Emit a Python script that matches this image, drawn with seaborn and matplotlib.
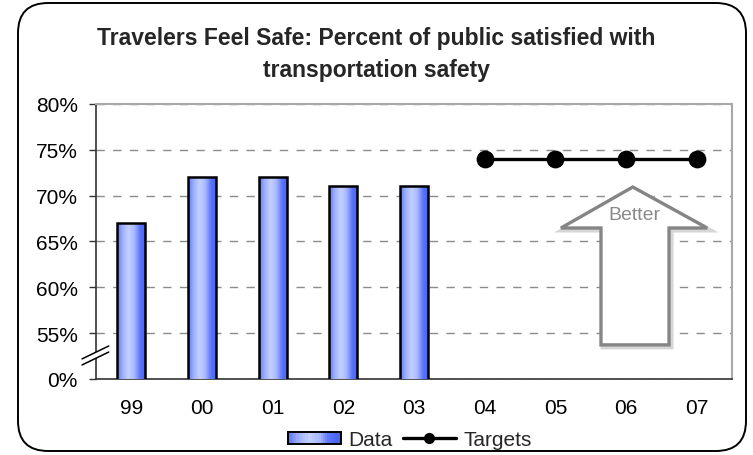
import numpy as np
import pandas as pd
import matplotlib
matplotlib.use("Agg")
import matplotlib.pyplot as plt
import matplotlib.transforms as mtransforms
from matplotlib.colors import LinearSegmentedColormap
from matplotlib.patches import Rectangle, Polygon, FancyBboxPatch
from matplotlib.lines import Line2D
from matplotlib.legend_handler import HandlerBase
import seaborn as sns

# ---- data ----
years = ["99", "00", "01", "02", "03", "04", "05", "06", "07"]
data_years = ["99", "00", "01", "02", "03"]
data_values = [67, 72, 72, 71, 71]
target_years = ["04", "05", "06", "07"]
target_values = [74, 74, 74, 74]
y_ticks = [50, 55, 60, 65, 70, 75, 80]
y_tick_labels = ["0%", "55%", "60%", "65%", "70%", "75%", "80%"]

sns.set_theme(style="white")
plt.rcParams["font.family"] = ["Liberation Sans", "DejaVu Sans"]

FS = 15
bar_cmap = LinearSegmentedColormap.from_list(
    "barfill", ["#5b76ff", "#9fb1ff", "#c4d0ff", "#a9b9ff", "#5a74fb", "#4563f0"])

fig = plt.figure(figsize=(7.53, 4.56), dpi=100)
ax = fig.add_axes([0.1275, 0.1667, 0.8446, 0.6031])

df_data = pd.DataFrame({"year": data_years, "value": data_values})
df_target = pd.DataFrame({"year": target_years, "value": target_values})

sns.barplot(data=df_data, x="year", y="value", order=years, width=0.4,
            color="#8fa3ff", edgecolor="black", linewidth=1.8, ax=ax, zorder=3)
sns.pointplot(data=df_target, x="year", y="value", order=years, color="black",
              markers="o", markersize=11, linewidth=2.4, ax=ax, zorder=5)

YMIN, YMAX = 50, 80
ax.set_ylim(YMIN, YMAX)
ax.set_xlim(-0.5, len(years) - 0.5)

# gradient fill inside each bar (only the visible part above the axis floor)
grad = np.linspace(0, 1, 256).reshape(1, -1)
for p in list(ax.patches):
    x0, y0 = p.get_x(), p.get_y()
    w, h = p.get_width(), p.get_height()
    if np.isnan(h) or h == 0:
        continue
    lo = max(y0, YMIN)
    ax.imshow(grad, cmap=bar_cmap, aspect="auto", extent=[x0, x0 + w, lo, y0 + h],
              zorder=3.5, interpolation="bicubic")
    p.set_facecolor("none")
    p.set_zorder(4)
ax.set_xlim(-0.5, len(years) - 0.5)
ax.set_ylim(YMIN, YMAX)

# axes styling
ax.set_xlabel("")
ax.set_ylabel("")
ax.set_yticks(y_ticks)
ax.set_yticklabels(y_tick_labels, fontsize=FS, color="black")
ax.set_xticks(range(len(years)))
ax.set_xticklabels(years, fontsize=FS, color="black")
ax.set_xticks(np.arange(-0.5, len(years)), minor=True)
ax.tick_params(axis="x", which="major", length=0, pad=14)
ax.tick_params(axis="x", which="minor", length=5, width=1, color="#333333", direction="out")
ax.tick_params(axis="y", which="major", length=5, width=1, color="#333333", direction="out",
               pad=8, left=True)
ax.yaxis.grid(True, linestyle=(0, (6, 6)), color="#8c8c8c", linewidth=1)
ax.set_axisbelow(True)
for s in ["left", "bottom"]:
    ax.spines[s].set_color("#333333")
    ax.spines[s].set_linewidth(1.2)
for s in ["top", "right"]:
    ax.spines[s].set_color("#a8a8a8")
    ax.spines[s].set_linewidth(1.5)

# axis break marks on the value axis
brk = ax.transAxes
ax.add_patch(Polygon([(-0.022, 0.073), (0.020, 0.120), (0.020, 0.098), (-0.022, 0.051)],
                     closed=True, facecolor="white", edgecolor="none",
                     transform=brk, clip_on=False, zorder=6))
for dy in (0.0, 0.022):
    ax.add_line(Line2D([-0.022, 0.020], [0.051 + dy, 0.098 + dy], color="black",
                       linewidth=1.1, transform=brk, clip_on=False, zorder=7))

# "Better" arrow
arrow_pts = [(0.844, 0.698), (0.961, 0.549), (0.901, 0.549), (0.901, 0.124),
             (0.794, 0.124), (0.794, 0.549), (0.731, 0.549)]
shadow = mtransforms.offset_copy(ax.transAxes, fig=fig, x=1.5, y=-1.5, units="points")
ax.add_patch(Polygon(arrow_pts, closed=True, facecolor="none", edgecolor="#d6d6d6",
                     linewidth=3.5, transform=shadow, joinstyle="miter", zorder=6))
ax.add_patch(Polygon(arrow_pts, closed=True, facecolor="white", edgecolor="#858585",
                     linewidth=2.4, transform=ax.transAxes, joinstyle="miter", zorder=6))
ax.text(0.846, 0.597, "Better", transform=ax.transAxes, ha="center", va="center",
        fontsize=14, color="#8a8a8a", zorder=7)

# title
fig.text(0.5, 1 - 38 / 456, "Travelers Feel Safe: Percent of public satisfied with",
         ha="center", va="center", fontsize=16.5, fontweight="bold")
fig.text(0.5, 1 - 71 / 456, "transportation safety",
         ha="center", va="center", fontsize=16.5, fontweight="bold")


# legend with gradient swatch for the bars
class GradientHandler(HandlerBase):
    def create_artists(self, legend, orig_handle, xdescent, ydescent, width, height,
                       fontsize, trans):
        n = 24
        arts = []
        x0, y0 = -xdescent, -ydescent + height * 0.05
        hh = height * 0.9
        for i in range(n):
            arts.append(Rectangle((x0 + width * i / n, y0), width / n + 0.2, hh,
                                  facecolor=bar_cmap(i / (n - 1)), edgecolor="none",
                                  transform=trans))
        arts.append(Rectangle((x0, y0), width, hh, facecolor="none", edgecolor="black",
                              linewidth=1.4, transform=trans))
        return arts


data_handle = Rectangle((0, 0), 1, 1)
target_handle = Line2D([], [], color="black", linewidth=2.4, marker="o", markersize=7)
fig.legend([data_handle, target_handle], ["Data", "Targets"],
           handler_map={Rectangle: GradientHandler()},
           loc="center", bbox_to_anchor=(410 / 753, 1 - 441 / 456), ncol=2, frameon=False,
           fontsize=FS, handlelength=2.55, handleheight=0.63, handletextpad=0.38,
           columnspacing=0.48, borderpad=0, borderaxespad=0)

# rounded outer frame
fig.patches.append(FancyBboxPatch((18 / 753, 4 / 456), 728 / 753, 448 / 456,
                                  boxstyle="round,pad=0,rounding_size=0.04",
                                  transform=fig.transFigure, facecolor="none",
                                  edgecolor="black", linewidth=1.4,
                                  mutation_aspect=753 / 456))

fig.savefig("out.png", dpi=100)
